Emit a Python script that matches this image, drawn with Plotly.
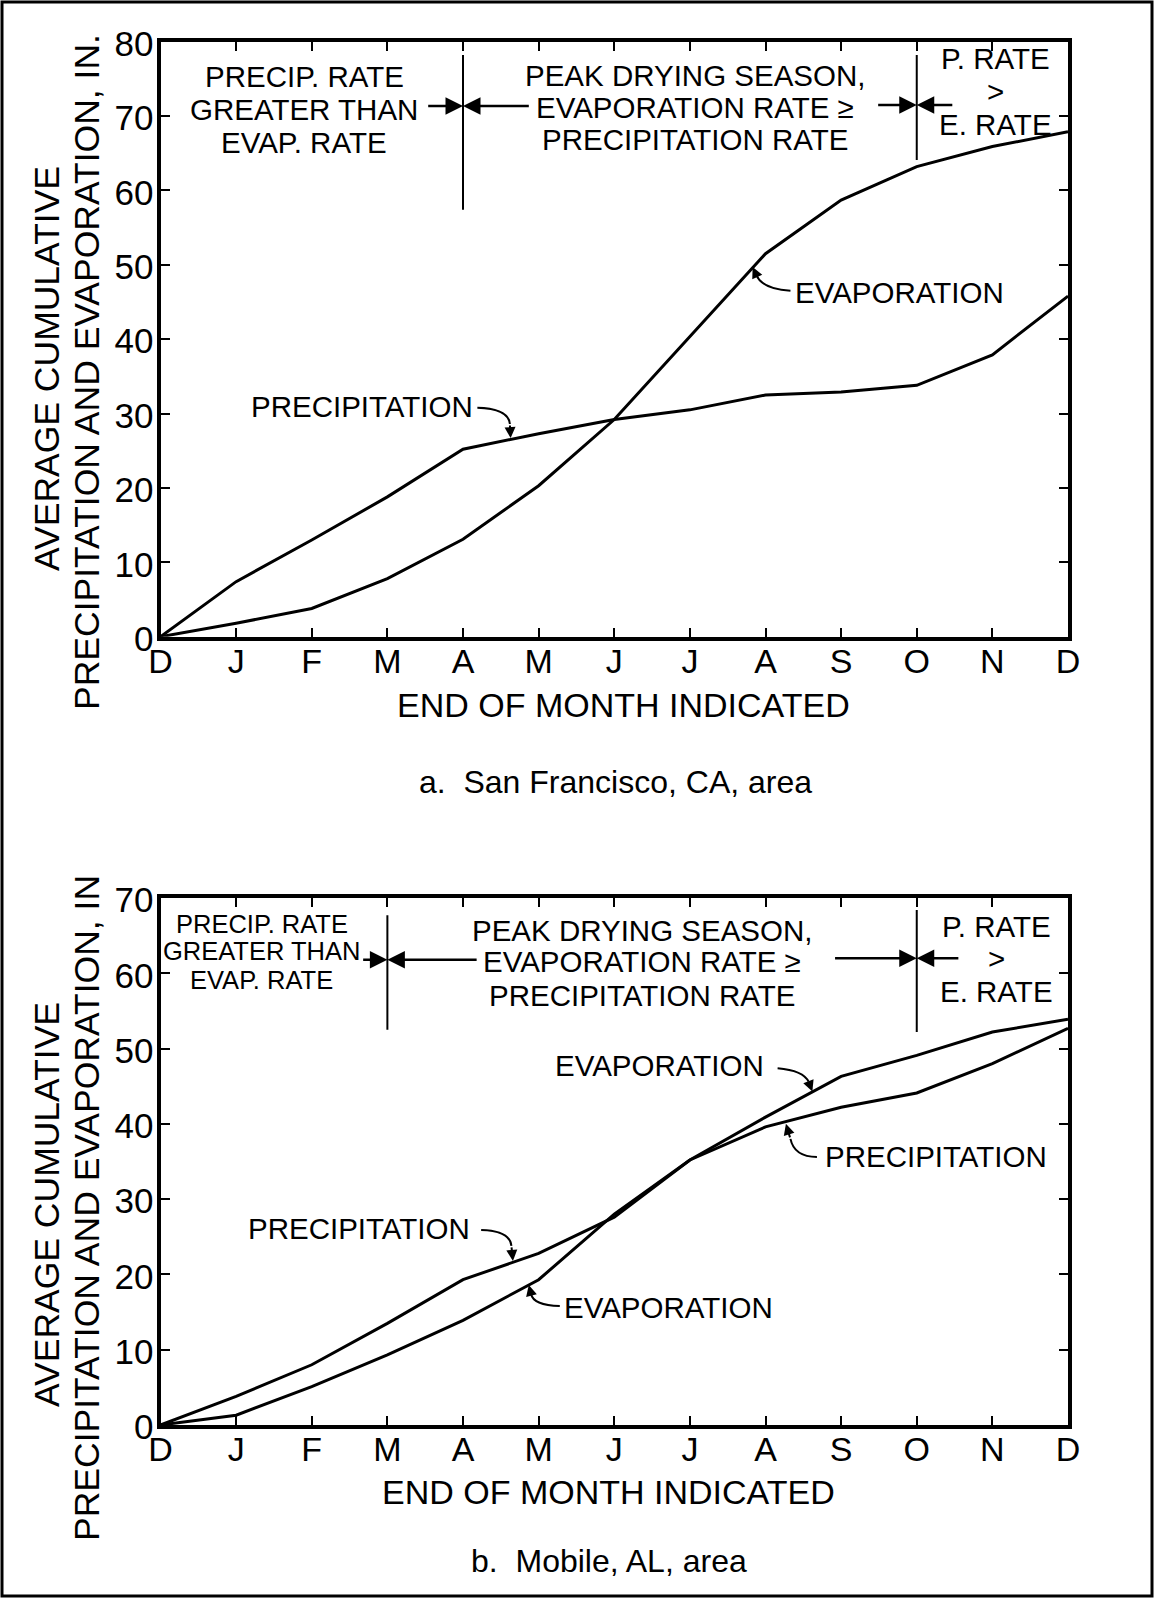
import plotly.graph_objects as go

# ---------------- data ----------------
month_idx = list(range(13))
month_labels = ["D", "J", "F", "M", "A", "M", "J", "J", "A", "S", "O", "N", "D"]

sf_precip = [0, 7.4, 13.0, 18.8, 25.2, 27.3, 29.2, 30.5, 32.5, 32.9, 33.8, 37.9, 45.8]
sf_evap = [0, 1.8, 3.8, 7.8, 13.1, 20.3, 29.2, 40.4, 51.5, 58.7, 63.2, 65.9, 67.9]

mob_precip = [0, 3.8, 8.0, 13.5, 19.3, 22.8, 27.6, 35.2, 39.6, 42.2, 44.1, 48.0, 52.7]
mob_evap = [0, 1.3, 5.1, 9.3, 13.9, 19.3, 28.0, 35.2, 40.9, 46.3, 49.1, 52.2, 53.9]

sf_yticks = [0, 10, 20, 30, 40, 50, 60, 70, 80]
mob_yticks = [0, 10, 20, 30, 40, 50, 60, 70]

# ---------------- layout constants ----------------
W, H = 1156, 1598
FONT = "Liberation Sans"
BLACK = "black"
LBL = 29.5

fig = go.Figure()
line_style = dict(color=BLACK, width=3)
fig.add_trace(go.Scatter(x=month_idx, y=sf_precip, mode="lines", line=line_style,
                         xaxis="x", yaxis="y", name="Precipitation"))
fig.add_trace(go.Scatter(x=month_idx, y=sf_evap, mode="lines", line=line_style,
                         xaxis="x", yaxis="y", name="Evaporation"))
fig.add_trace(go.Scatter(x=month_idx, y=mob_precip, mode="lines", line=line_style,
                         xaxis="x2", yaxis="y2", name="Precipitation"))
fig.add_trace(go.Scatter(x=month_idx, y=mob_evap, mode="lines", line=line_style,
                         xaxis="x2", yaxis="y2", name="Evaporation"))

axis_common = dict(
    showline=True, linewidth=4, linecolor=BLACK, mirror="ticks",
    ticks="inside", ticklen=9, tickwidth=2, tickcolor=BLACK,
    showgrid=False, zeroline=False, automargin=False,
)
xaxis_style = dict(axis_common, ticklabelstandoff=-9,
                   tickfont=dict(family=FONT, size=34, color=BLACK))
yaxis_style = dict(axis_common, ticklabelstandoff=-4, ticklabelshift=2,
                   tickfont=dict(family=FONT, size=35, color=BLACK))
xdom = [160.5 / W, 1068 / W]

annotations = []
shapes = []


def txt(x, y, s, sub, size=LBL, xanchor="center"):
    annotations.append(dict(
        x=x, y=y, xref="x" + sub, yref="y" + sub, text=s, showarrow=False,
        xanchor=xanchor, yanchor="middle",
        font=dict(family=FONT, size=size, color=BLACK)))


def arrow(tip_x, tip_y, tail_x, tail_y, sub, size=1.4, width=2.5):
    annotations.append(dict(
        x=tip_x, y=tip_y, ax=tail_x, ay=tail_y,
        xref="x" + sub, yref="y" + sub, axref="x" + sub, ayref="y" + sub,
        text="", showarrow=True, arrowhead=2, arrowsize=size,
        arrowwidth=width, arrowcolor=BLACK))


def vline(x, y0, y1, sub):
    shapes.append(dict(type="line", xref="x" + sub, yref="y" + sub,
                       x0=x, x1=x, y0=y0, y1=y1,
                       line=dict(color=BLACK, width=2)))


def leader(p0, c, p1, tip, sub):
    shapes.append(dict(type="path", xref="x" + sub, yref="y" + sub,
                       path=f"M {p0[0]},{p0[1]} Q {c[0]},{c[1]} {p1[0]},{p1[1]}",
                       line=dict(color=BLACK, width=2)))
    arrow(tip[0], tip[1], p1[0], p1[1], sub, size=1.1, width=2)


# ---------- top chart (San Francisco) ----------
s = ""
for y, t in zip([75.3, 70.9, 66.4], ["PRECIP. RATE", "GREATER THAN", "EVAP. RATE"]):
    txt(1.9, y, t, s)
for y, t in zip([75.5, 71.2, 66.8],
                ["PEAK DRYING SEASON,", "EVAPORATION RATE \u2265", "PRECIPITATION RATE"]):
    txt(7.07, y, t, s)
for y, t in zip([77.8, 73.3, 68.8], ["P. RATE", ">", "E. RATE"]):
    txt(11.04, y, t, s)
vline(4, 57.4, 78.2, s)
vline(10, 64.1, 78.2, s)
arrow(4, 71.35, 3.52, 71.35, s)
arrow(4, 71.35, 4.89, 71.35, s)
arrow(10, 71.5, 9.47, 71.5, s)
arrow(10, 71.5, 10.49, 71.5, s)
txt(8.36, 46.3, "EVAPORATION", s, xanchor="left")
leader((8.33, 46.5), (7.95, 46.8), (7.88, 48.6), (7.83, 49.7), s)
txt(4.16, 30.9, "PRECIPITATION", s, xanchor="right")
leader((4.19, 30.8), (4.6, 30.7), (4.62, 28.6), (4.63, 26.7), s)

# ---------- bottom chart (Mobile) ----------
s = "2"
for y, t in zip([66.6, 62.9, 59.1], ["PRECIP. RATE", "GREATER THAN", "EVAP. RATE"]):
    txt(1.34, y, t, s, size=25.5)
for y, t in zip([65.7, 61.5, 57.1],
                ["PEAK DRYING SEASON,", "EVAPORATION RATE \u2265", "PRECIPITATION RATE"]):
    txt(6.37, y, t, s)
for y, t in zip([66.2, 62.0, 57.6], ["P. RATE", ">", "E. RATE"]):
    txt(11.06, y, t, s)
vline(3, 52.5, 67.7, s)
vline(10, 52.2, 68.4, s)
arrow(3, 61.8, 2.66, 61.8, s)
arrow(3, 61.8, 4.2, 61.8, s)
arrow(10, 62.0, 8.9, 62.0, s)
arrow(10, 62.0, 10.57, 62.0, s)
txt(8.0, 47.8, "EVAPORATION", s, xanchor="right")
leader((8.16, 47.4), (8.5, 47.1), (8.57, 45.6), (8.62, 44.3), s)
txt(8.76, 35.6, "PRECIPITATION", s, xanchor="left")
leader((8.68, 35.6), (8.38, 35.6), (8.33, 38.0), (8.27, 40.0), s)
txt(4.12, 26.1, "PRECIPITATION", s, xanchor="right")
leader((4.24, 25.9), (4.62, 25.8), (4.64, 23.8), (4.66, 21.8), s)
txt(5.31, 15.6, "EVAPORATION", s, xanchor="left")
leader((5.28, 15.8), (4.93, 15.9), (4.9, 17.4), (4.87, 18.6), s)


# ---------- titles (paper coords) ----------
def ptxt(xp, yp, t, size, angle=0):
    annotations.append(dict(
        x=xp / W, y=1 - yp / H, xref="paper", yref="paper", text=t,
        showarrow=False, textangle=angle, xanchor="center", yanchor="middle",
        font=dict(family=FONT, size=size, color=BLACK)))


ptxt(47, 369, "AVERAGE CUMULATIVE", 35.5, -90)
ptxt(87, 372, "PRECIPITATION AND EVAPORATION, IN.", 35.5, -90)
ptxt(47, 1205, "AVERAGE CUMULATIVE", 35.5, -90)
ptxt(87, 1208, "PRECIPITATION AND EVAPORATION, IN", 35.5, -90)
ptxt(623, 705, "END OF MONTH INDICATED", 34)
ptxt(608, 1492, "END OF MONTH INDICATED", 34)
ptxt(615, 782, "a.\u00a0 San Francisco, CA, area", 32)
ptxt(609, 1561, "b.\u00a0 Mobile, AL, area", 32)

# outer frame
shapes.append(dict(type="rect", xref="paper", yref="paper",
                   x0=2 / W, x1=1152 / W, y0=1 - 1596 / H, y1=1 - 2 / H,
                   line=dict(color=BLACK, width=3), fillcolor="rgba(0,0,0,0)"))

fig.update_layout(
    width=W, height=H,
    margin=dict(l=0, r=0, t=0, b=0, autoexpand=False),
    paper_bgcolor="white", plot_bgcolor="white",
    showlegend=False,
    font=dict(family=FONT, color=BLACK),
    xaxis=dict(xaxis_style, domain=xdom, range=[0, 12], tickvals=month_idx,
               ticktext=month_labels, anchor="y"),
    yaxis=dict(yaxis_style, domain=[1 - 636.7 / H, 1 - 41.7 / H], range=[0, 80],
               tickvals=sf_yticks, anchor="x"),
    xaxis2=dict(xaxis_style, domain=xdom, range=[0, 12], tickvals=month_idx,
                ticktext=month_labels, anchor="y2"),
    yaxis2=dict(yaxis_style, domain=[1 - 1425 / H, 1 - 898 / H], range=[0, 70],
                tickvals=mob_yticks, anchor="x2"),
    annotations=annotations,
    shapes=shapes,
)

fig.write_html(
    "out.html",
    config={"displayModeBar": False},
    post_script="document.body.style.margin='0';document.body.style.overflow='hidden';",
)
